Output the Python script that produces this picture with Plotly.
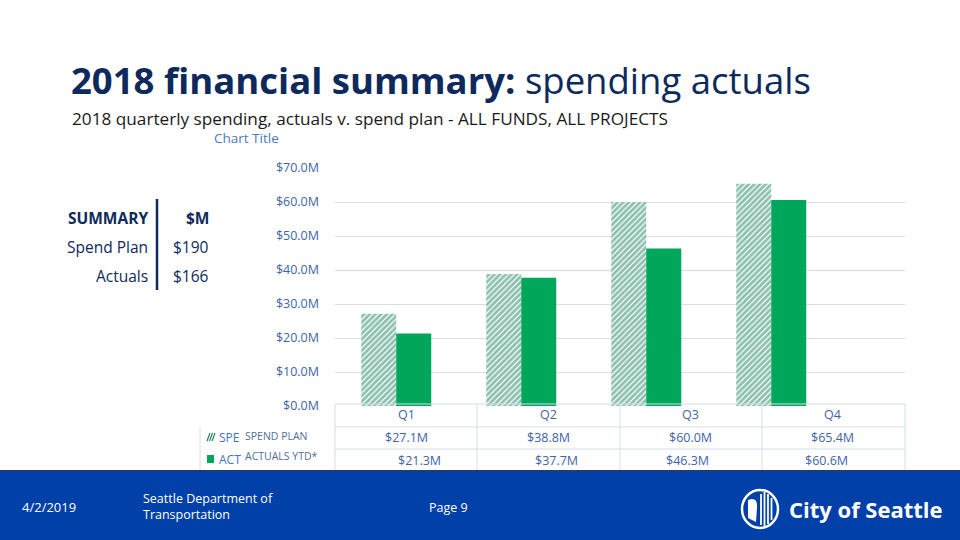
import plotly.graph_objects as go

quarters = ["Q1", "Q2", "Q3", "Q4"]
spend_plan = [27.1, 38.8, 60.0, 65.4]
actuals = [21.3, 37.7, 46.3, 60.6]
spend_labels = ["$27.1M", "$38.8M", "$60.0M", "$65.4M"]
actual_labels = ["$21.3M", "$37.7M", "$46.3M", "$60.6M"]
summary_rows = ["Spend Plan", "Actuals"]
summary_vals = ["$190", "$166"]

W, H = 960, 540
def px(x): return x / W
def py(y): return 1 - y / H

GREEN = "#00A65A"
HATCH = "#15805B"
NAVY = "#0E2A5C"
BLUE_TXT = "#3E64A6"
FOOT = "#0040A8"

# table column centres (pixels) - layout only
col_x = [406, 548, 690, 832]
act_x = [419, 556, 687, 826]

fig = go.Figure()
fig.add_trace(go.Bar(
    x=quarters, y=spend_plan, name="SPEND PLAN",
    marker=dict(color="white", line=dict(width=0),
                pattern=dict(shape="/", fgcolor=HATCH, bgcolor="white", size=4, solidity=0.7)),
    showlegend=False,
))
fig.add_trace(go.Bar(
    x=quarters, y=actuals, name="ACTUALS YTD*",
    marker=dict(color=GREEN, line=dict(width=0)),
    showlegend=False,
))

fig.update_layout(
    width=W, height=H,
    margin=dict(l=0, r=0, t=0, b=0, pad=0, autoexpand=False),
    paper_bgcolor="white", plot_bgcolor="white",
    barmode="group", bargap=0.44, bargroupgap=0.0,
    font=dict(family="Open Sans", color=BLUE_TXT),
    xaxis=dict(domain=[px(335), px(905)], range=[-0.49, 4.07], showticklabels=False,
               showgrid=False, zeroline=False, showline=False, fixedrange=True, automargin=False),
    yaxis=dict(domain=[py(406), py(168)], range=[0, 70], dtick=10,
               tickprefix="$", ticksuffix="M", tickformat=".1f", automargin=False,
               showgrid=True, gridcolor="#D9DEE6", gridwidth=1, fixedrange=True,
               zeroline=False, showline=False, ticks="", ticklabelstandoff=15,
               tickfont=dict(family="Open Sans", size=12.5, color=BLUE_TXT)),
)

shapes = []
LC = "#D6DDE8"
for yy in [404, 427, 449]:
    shapes.append(dict(type="line", xref="paper", yref="paper", x0=px(335), x1=px(905),
                       y0=py(yy), y1=py(yy), line=dict(color=LC, width=1)))
for xx in [335, 477, 620, 762, 905]:
    shapes.append(dict(type="line", xref="paper", yref="paper", x0=px(xx), x1=px(xx),
                       y0=py(404), y1=py(470), line=dict(color=LC, width=1)))
shapes.append(dict(type="line", xref="paper", yref="paper", x0=px(200), x1=px(200),
                   y0=py(427), y1=py(470), line=dict(color=LC, width=1)))
# summary vertical line
shapes.append(dict(type="line", xref="paper", yref="paper", x0=px(157), x1=px(157),
                   y0=py(199), y1=py(290), line=dict(color=NAVY, width=2.5)))
# legend keys
for k in range(3):
    shapes.append(dict(type="line", xref="paper", yref="paper", x0=px(207 + 2.5 * k), x1=px(210 + 2.5 * k),
                       y0=py(441), y1=py(433), line=dict(color=HATCH, width=1.2)))
shapes.append(dict(type="rect", xref="paper", yref="paper", x0=px(207), x1=px(214),
                   y0=py(463), y1=py(455), fillcolor=GREEN, line=dict(width=0)))
# footer
shapes.append(dict(type="rect", xref="paper", yref="paper", x0=0, x1=1, y0=0, y1=py(470),
                   fillcolor=FOOT, line=dict(width=0), layer="above"))
shapes.append(dict(type="line", xref="paper", yref="paper", x0=0, x1=1, y0=py(471), y1=py(471),
                   line=dict(color="#1D3B78", width=2), layer="above"))
# logo
shapes.append(dict(type="circle", xref="paper", yref="paper", x0=px(742), x1=px(778),
                   y0=py(528), y1=py(490), line=dict(color="white", width=2.5), layer="above"))
for k, (t, b) in enumerate([(494, 525), (492, 526), (494, 524), (498, 520)]):
    shapes.append(dict(type="line", xref="paper", yref="paper", x0=px(761 + 3.5 * k), x1=px(761 + 3.5 * k),
                       y0=py(b), y1=py(t), line=dict(color="white", width=1.8), layer="above"))
shapes.append(dict(type="path", xref="paper", yref="paper",
                   path=f"M {px(748)} {py(500)} Q {px(758)} {py(496)} {px(757)} {py(508)} L {px(756)} {py(522)} L {px(748)} {py(518)} Z",
                   fillcolor="white", line=dict(width=0), layer="above"))
fig.update_layout(shapes=shapes)

ann = []
def A(x, y, text, size, color, xanchor="left", family="Open Sans", yanchor="middle", align="left"):
    ann.append(dict(x=px(x), y=py(y), xref="paper", yref="paper", text=text, showarrow=False,
                    xanchor=xanchor, yanchor=yanchor, align=align,
                    font=dict(size=size, color=color, family=family)))

A(69, 80, "<b>2018 financial summary:</b> spending actuals", 36.5, NAVY)
A(70, 119, "2018 quarterly spending, actuals v. spend plan - ALL FUNDS, ALL PROJECTS", 17.2, "#1A1A1A")
A(212, 138, "Chart Title", 13.5, "#4A78C8")

# summary table
A(150, 218, "<b>SUMMARY</b>", 15.5, NAVY, xanchor="right")
A(211, 218, "<b>$M</b>", 15.5, NAVY, xanchor="right")
for i, (r, v) in enumerate(zip(summary_rows, summary_vals)):
    A(150, 247 + 29 * i, r, 15.5, NAVY, xanchor="right")
    A(171, 247 + 29 * i, v, 15.5, NAVY)

# data table
for i, q in enumerate(quarters):
    A(col_x[i], 414, q, 12.5, BLUE_TXT, xanchor="center")
    A(col_x[i], 437, spend_labels[i], 12.5, BLUE_TXT, xanchor="center")
    A(act_x[i], 460, actual_labels[i], 12.5, BLUE_TXT, xanchor="center")

# legend labels
A(217, 437, "SPE", 12, "#4472C4")
A(217, 459, "ACT", 12, "#4472C4")
ann.append(dict(x=px(243), y=py(436), xref="paper", yref="paper", text="SPEND PLAN", showarrow=False,
                xanchor="left", yanchor="middle", bgcolor="white", borderpad=1,
                font=dict(size=10.5, color="#4F6E99", family="Open Sans")))
ann.append(dict(x=px(243), y=py(456), xref="paper", yref="paper", text="ACTUALS YTD*", showarrow=False,
                xanchor="left", yanchor="middle", bgcolor="white", borderpad=1,
                font=dict(size=10.5, color="#4F6E99", family="Open Sans")))

# footer text
A(20, 507, "4/2/2019", 13, "white")
A(141, 506, "Seattle Department of<br>Transportation", 12.5, "white")
A(427, 507, "Page 9", 12.5, "white")
A(787, 509, "<b>City of Seattle</b>", 22, "white")

fig.update_layout(annotations=ann)
fig.write_html("out.html", config={"displayModeBar": False},
               post_script="document.body.style.margin='0';document.body.style.overflow='hidden';")
